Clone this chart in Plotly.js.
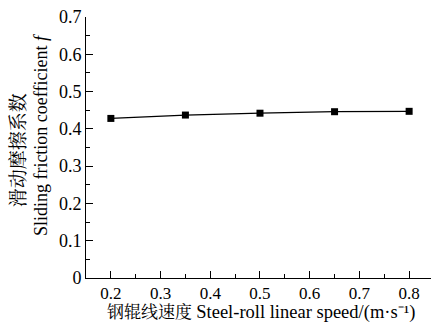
<!DOCTYPE html>
<html>
<head>
<meta charset="utf-8">
<script src="https://cdn.plot.ly/plotly-3.0.1.min.js"></script>
<style>html,body{margin:0;padding:0;background:#fff;}#chart{width:431px;height:323px;}</style>
</head>
<body>
<div id="chart"></div>
<script>
var speed = [0.2, 0.35, 0.5, 0.65, 0.8];
var friction = [0.428, 0.437, 0.442, 0.446, 0.447];
var xTickVals = [0.2, 0.3, 0.4, 0.5, 0.6, 0.7, 0.8];
var yTickVals = [0, 0.1, 0.2, 0.3, 0.4, 0.5, 0.6, 0.7];
var yTickText = ['0', '0.1', '0.2', '0.3', '0.4', '0.5', '0.6', '0.7'];
var xTitle = '钢辊线速度 <span style="font-size:18.5px">Steel-roll linear speed/(m·s⁻¹)</span>';
var yTitleCn = '滑动摩擦系数';
var yTitleEn = 'Sliding friction coefficient <i>f</i>';

var font = '"Liberation Serif", "Noto Serif CJK SC", "Noto Sans CJK SC", serif';

var trace = {
  x: speed, y: friction, type: 'scatter', mode: 'lines+markers',
  line: {color: '#000', width: 1.2},
  marker: {symbol: 'square', size: 7, color: '#000'},
  showlegend: false
};

var layout = {
  width: 431, height: 323,
  margin: {l: 86, r: 0, t: 17, b: 45},
  paper_bgcolor: '#fff', plot_bgcolor: '#fff',
  font: {family: font, size: 18, color: '#000'},
  xaxis: {
    range: [0.15, 0.844], tickvals: xTickVals, ticktext: xTickVals.map(String),
    ticks: 'inside', ticklen: 7, tickwidth: 1, tickcolor: '#000',
    minor: {dtick: 0.05, tick0: 0.15, ticks: 'inside', ticklen: 4, tickcolor: '#000', tickwidth: 1, showgrid: false},
    showline: true, linecolor: '#000', linewidth: 1, mirror: false,
    showgrid: false, zeroline: false, automargin: false,
    tickfont: {family: font, size: 17}
  },
  yaxis: {
    range: [0, 0.7], tickvals: yTickVals, ticktext: yTickText,
    ticks: 'inside', ticklen: 7, tickwidth: 1, tickcolor: '#000',
    minor: {dtick: 0.05, tick0: 0, ticks: 'inside', ticklen: 4, tickcolor: '#000', tickwidth: 1, showgrid: false},
    showline: true, linecolor: '#000', linewidth: 1, mirror: false,
    showgrid: false, zeroline: false, automargin: false,
    tickfont: {family: font, size: 18}
  },
  annotations: [
    {text: xTitle, xref: 'paper', yref: 'paper', x: 0.507, y: -0.1762, xanchor: 'center', yanchor: 'bottom',
     showarrow: false, font: {family: font, size: 17, color: '#000'}, borderpad: 0},
    {text: yTitleCn, xref: 'paper', yref: 'paper', x: -0.197, y: 0.49, xanchor: 'center', yanchor: 'middle',
     textangle: -90, showarrow: false, font: {family: font, size: 19, color: '#000'}},
    {text: yTitleEn, xref: 'paper', yref: 'paper', x: -0.130, y: 0.548, xanchor: 'center', yanchor: 'middle',
     textangle: -90, showarrow: false, font: {family: font, size: 18, color: '#000'}}
  ]
};

Plotly.newPlot('chart', [trace], layout, {staticPlot: true, displayModeBar: false});
</script>
</body>
</html>
